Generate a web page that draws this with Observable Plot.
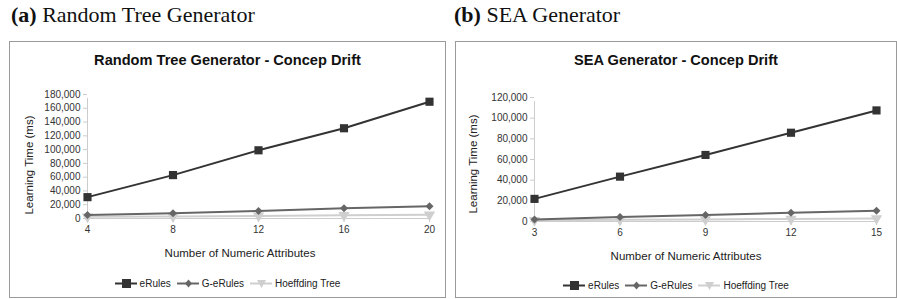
<!DOCTYPE html>
<html>
<head>
<meta charset="utf-8">
<script src="https://cdn.jsdelivr.net/npm/d3@7"></script>
<script src="https://cdn.jsdelivr.net/npm/@observablehq/plot@0.6"></script>
<style>
  body { margin: 0; background: #fff; width: 897px; height: 299px; overflow: hidden; }
  #root { position: relative; width: 897px; height: 299px; }
  .abs { position: absolute; white-space: nowrap; }
  .cap { font-family: "Liberation Serif", serif; font-size: 22px; color: #111; }
  .frame { border: 1px solid #9a9a9a; box-sizing: border-box; }
  .title { font-family: "Liberation Sans", sans-serif; font-weight: bold; font-size: 14.6px; color: #111; text-align: center; }
  .axlab { font-family: "Liberation Sans", sans-serif; font-size: 11.5px; color: #222; }
  .legend { font-family: "Liberation Sans", sans-serif; font-size: 10px; color: #222; text-align: center; }
  .legend span.item { display: inline-flex; align-items: center; margin: 0 3px; }
  .legend svg { margin-right: 3px; }
</style>
</head>
<body>
<div id="root"></div>
<script>
// ---- data ----
const seriesNames = ["eRules", "G-eRules", "Hoeffding Tree"];
const seriesColors = ["#333333", "#666666", "#cfcfcf"];

const rtAttrs = [4, 8, 12, 16, 20];
const rtERules = [31000, 63000, 99000, 131000, 169500];
const rtGERules = [5200, 7700, 11000, 15000, 17800];
const rtHoeffding = [2500, 3000, 3800, 4800, 5600];
const rtYTicks = [0, 20000, 40000, 60000, 80000, 100000, 120000, 140000, 160000, 180000];

const seaAttrs = [3, 6, 9, 12, 15];
const seaERules = [21900, 43400, 64400, 85900, 107500];
const seaGERules = [2000, 4300, 6400, 8500, 10500];
const seaHoeffding = [1200, 1600, 2000, 2500, 3000];
const seaYTicks = [0, 20000, 40000, 60000, 80000, 100000, 120000];

const root = document.getElementById("root");
function el(cls, style, html) {
  const d = document.createElement("div");
  d.className = "abs " + cls;
  Object.assign(d.style, style);
  if (html != null) d.innerHTML = html;
  root.appendChild(d);
  return d;
}

function tableOf(xs, arrays) {
  const rows = [];
  arrays.forEach((arr, i) => arr.forEach((v, j) => rows.push({x: xs[j], y: v, s: seriesNames[i]})));
  return rows;
}

function makeChart(p) {
  const rows = tableOf(p.xs, p.series);
  const fmt = d3.format(",");
  const marks = [
    Plot.ruleY([0], {stroke: "#cccccc", strokeWidth: 1}),
    Plot.ruleX([p.xs[0]], {y1: 0, y2: p.yMax, stroke: "#cccccc", insetBottom: -4}),
    Plot.axisX({ticks: p.xs, tickSize: 4, tickPadding: 3, stroke: "#cccccc", fill: "#333", fontSize: 10, label: null}),
    Plot.axisY({ticks: p.yTicks, tickSize: 4, tickPadding: 3, stroke: "#cccccc", fill: "#333", fontSize: 10, label: null, tickFormat: fmt})
  ];
  const symbols = ["square", "diamond2", "triangle"];
  const radii = [4.6, 3.6, 4.2];
  // draw light first, dark last
  [2, 1, 0].forEach(i => {
    const data = rows.filter(d => d.s === seriesNames[i]);
    marks.push(Plot.line(data, {x: "x", y: "y", stroke: seriesColors[i], strokeWidth: 2}));
    marks.push(Plot.dot(data, {x: "x", y: "y", symbol: symbols[i], r: radii[i], fill: seriesColors[i], stroke: "none", rotate: i === 2 ? 180 : 0}));
  });
  const svg = Plot.plot({
    width: p.width, height: p.height,
    marginLeft: p.ml, marginRight: p.mr, marginTop: p.mt, marginBottom: p.mb,
    x: {domain: [p.xs[0], p.xs[p.xs.length - 1]]},
    y: {domain: [0, p.yMax]},
    style: {fontFamily: "Liberation Sans, sans-serif", fontSize: "10px", background: "transparent", overflow: "visible"},
    marks
  });
  svg.style.position = "absolute";
  svg.style.left = p.left + "px";
  svg.style.top = p.top + "px";
  root.appendChild(svg);
}

function legendIcon(i) {
  const c = seriesColors[i];
  let m;
  if (i === 0) m = `<rect x="7" y="1" width="9" height="9" fill="${c}"/>`;
  else if (i === 1) m = `<path d="M11.5 1.5 L15 5.5 L11.5 9.5 L8 5.5 Z" fill="${c}"/>`;
  else m = `<path d="M7 2 L16 2 L11.5 10 Z" fill="${c}"/>`;
  return `<svg width="22" height="11"><line x1="0" x2="22" y1="5.5" y2="5.5" stroke="${c}" stroke-width="2"/>${m}</svg>`;
}
function legendHTML() {
  return seriesNames.map((n, i) => `<span class="item">${legendIcon(i)}${n}</span>`).join("");
}

// ---- Panel (a) ----
el("cap", {left: "11px", top: "2px"}, "<b>(a)</b> Random Tree Generator");
el("frame", {left: "9px", top: "41px", width: "437px", height: "257px"});
el("title", {left: "9px", top: "52px", width: "437px"}, "Random Tree Generator - Concep Drift");
el("axlab", {left: "29px", top: "165px", transform: "translate(-50%,-50%) rotate(-90deg)"}, "Learning Time (ms)");
el("axlab", {left: "240px", top: "253px", transform: "translate(-50%,-50%)"}, "Number of Numeric Attributes");
el("legend", {left: "9px", top: "278px", width: "437px"}, legendHTML());
makeChart({xs: rtAttrs, series: [rtERules, rtGERules, rtHoeffding], yMax: 180000, yTicks: rtYTicks,
  left: 10, top: 80, width: 435, height: 165, ml: 77, mr: 16, mt: 14, mb: 27});

// ---- Panel (b) ----
el("cap", {left: "454px", top: "2px"}, "<b>(b)</b> SEA Generator");
el("frame", {left: "455px", top: "41px", width: "442px", height: "257px"});
el("title", {left: "455px", top: "52px", width: "442px"}, "SEA Generator - Concep Drift");
el("axlab", {left: "473px", top: "164px", transform: "translate(-50%,-50%) rotate(-90deg)"}, "Learning Time (ms)");
el("axlab", {left: "686px", top: "256px", transform: "translate(-50%,-50%)"}, "Number of Numeric Attributes");
el("legend", {left: "455px", top: "280px", width: "442px"}, legendHTML());
makeChart({xs: seaAttrs, series: [seaERules, seaGERules, seaHoeffding], yMax: 120000, yTicks: seaYTicks,
  left: 456, top: 80, width: 440, height: 165, ml: 78, mr: 20, mt: 17, mb: 24});
</script>
</body>
</html>
